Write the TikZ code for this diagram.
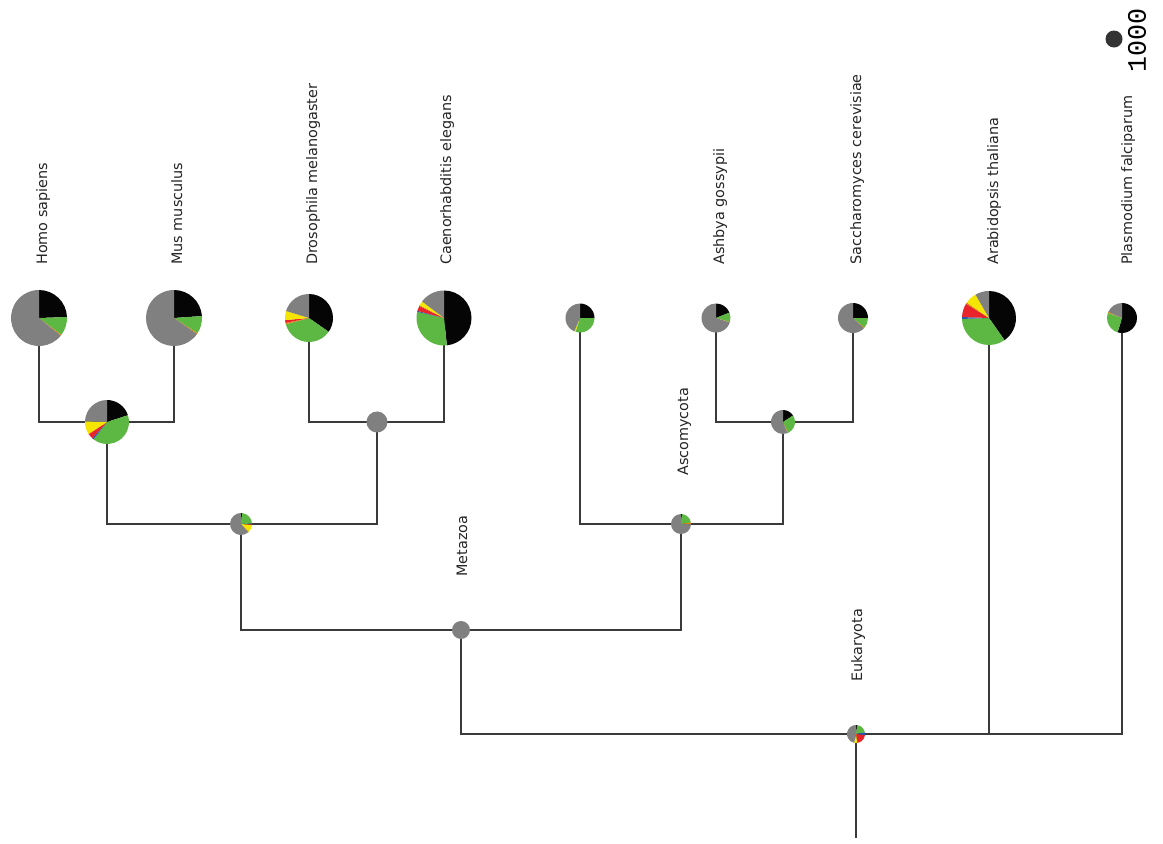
\documentclass[tikz,border=0pt]{standalone}
\usepackage{fontspec}
\setmainfont{DejaVu Sans}
\newfontfamily\monofnt{Liberation Mono}
\definecolor{pk}{HTML}{050505}
\definecolor{pg}{HTML}{5DB843}
\definecolor{pgr}{HTML}{808080}
\definecolor{py}{HTML}{F4E600}
\definecolor{pr}{HTML}{E8232A}
\definecolor{pb}{HTML}{2458B0}
\definecolor{po}{HTML}{E38B12}
\definecolor{linec}{HTML}{3A3A3A}
\definecolor{dotc}{HTML}{333333}
\newcommand\piechart[3]{%
  \pgfmathsetmacro\pieR{0.75*#2}%
  \foreach \a/\b/\c in {#3}{%
    \fill[\c] (#1.center) -- ++({90-\a}:\pieR pt) arc[start angle={90-\a}, end angle={90-\b}, radius=\pieR pt] -- cycle;
  }}
\tikzset{
  branch/.style={draw=linec, line width=0.9pt},
  lab/.style={rotate=90, anchor=base west, inner sep=0pt, font=\fontsize{10.8}{13}\selectfont, text=black!85},
  pt/.style={circle, inner sep=0pt, minimum size=0pt}
}
\begin{document}
\begin{tikzpicture}[x=0.75pt, y=-0.75pt]
\useasboundingbox (0,0) rectangle (1163,843);
\fill[white] (0,0) rectangle (1163,843);
% leaves
\node[pt] (hs) at (39,318) {};
\node[pt] (mm) at (174,318) {};
\node[pt] (dm) at (309,318) {};
\node[pt] (ce) at (444,318) {};
\node[pt] (u1) at (580,318) {};
\node[pt] (ag) at (716,318) {};
\node[pt] (sc) at (853,318) {};
\node[pt] (at) at (989,318) {};
\node[pt] (pf) at (1122,318) {};
% internal nodes
\node[pt] (hm) at (107,422) {};
\node[pt] (dc) at (377,422) {};
\node[pt] (fu) at (783,422) {};
\node[pt] (ms) at (241,524) {};
\node[pt] (as) at (681,524) {};
\node[pt] (mz) at (461,630) {};
\node[pt] (eu) at (856,734) {};
\coordinate (root) at (856,838);
% connectors
\draw[branch] (hs.center) |- (hm.center) -| (mm.center);
\draw[branch] (dm.center) |- (dc.center) -| (ce.center);
\draw[branch] (hm.center) |- (ms.center) -| (dc.center);
\draw[branch] (ag.center) |- (fu.center) -| (sc.center);
\draw[branch] (u1.center) |- (as.center) -| (fu.center);
\draw[branch] (ms.center) |- (mz.center) -| (as.center);
\draw[branch] (mz.center) |- (eu.center) -| (pf.center);
\draw[branch] (at.center) -- (at.center |- eu.center);
\draw[branch] (eu.center) -- (root);
% pies
\piechart{hs}{28}{0/88/pk,88/127/pg,127/129/po,129/360/pgr}
\piechart{mm}{28}{0/86/pk,86/123/pg,123/125/po,125/360/pgr}
\piechart{dm}{24}{0/125/pk,125/255/pg,255/258/po,258/265/pr,265/287/py,287/360/pgr}
\piechart{ce}{27.5}{0/174/pk,174/283/pg,283/285/pb,285/296/pr,296/298/po,298/307/py,307/360/pgr}
\piechart{u1}{14.5}{0/90/pk,90/198/pg,198/203/py,203/360/pgr}
\piechart{ag}{14.5}{0/68/pk,68/106/pg,106/108/po,108/360/pgr}
\piechart{sc}{15}{0/90/pk,90/130/pg,130/133/po,133/360/pgr}
\piechart{at}{27}{0/145/pk,145/268/pg,268/272/pb,272/302/pr,302/305/po,305/330/py,330/360/pgr}
\piechart{pf}{15}{0/197/pk,197/290/pg,290/294/po,294/360/pgr}
\piechart{hm}{22}{0/72/pk,72/218/pg,218/222/pb,222/236/pr,236/238/po,238/272/py,272/360/pgr}
\piechart{dc}{10.5}{0/3/pk,3/360/pgr}
\piechart{fu}{12}{0/57/pk,57/155/pg,155/158/po,158/360/pgr}
\piechart{ms}{11}{0/6/pk,6/88/pg,88/92/pb,92/96/pr,96/135/py,135/138/po,138/360/pgr}
\piechart{as}{10}{0/6/pk,6/82/pg,82/92/po,92/360/pgr}
\piechart{mz}{9}{0/3/pk,3/360/pgr}
\piechart{eu}{9}{0/8/pk,8/80/pg,80/98/pb,98/172/pr,172/192/py,192/360/pgr}
% labels
\node[lab] (lhs) at (47,265) {Homo sapiens};
\node[lab] (lmm) at (182,265) {Mus musculus};
\node[lab] (ldm) at (317,265) {Drosophila melanogaster};
\node[lab] (lce) at (451,265) {Caenorhabditis elegans};
\node[lab] (lag) at (724,265) {Ashbya gossypii};
\node[lab] (lsc) at (861,265) {Saccharomyces cerevisiae};
\node[lab] (lat) at (998,265) {Arabidopsis thaliana};
\node[lab] (lpf) at (1132,265) {Plasmodium falciparum};
\node[lab] (las) at (688,476) {Ascomycota};
\node[lab] (lmz) at (467,577) {Metazoa};
\node[lab] (leu) at (862,682) {Eukaryota};
% legend
\node[circle, fill=dotc, inner sep=0pt, minimum size=12.75pt] (leg) at (1114,39) {};
\node[rotate=90, inner sep=0pt, font=\monofnt\fontsize{20}{20}\selectfont] (legt) at (1137,40) {1000};
\end{tikzpicture}
\end{document}
